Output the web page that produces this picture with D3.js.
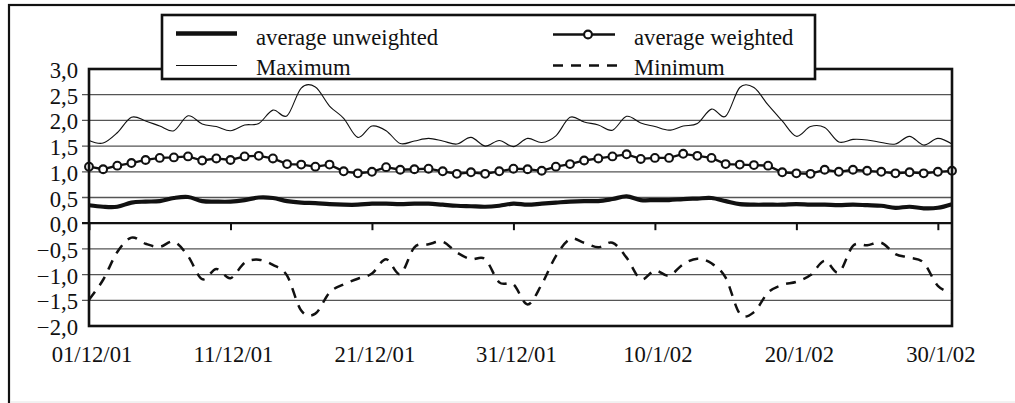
<!DOCTYPE html>
<html>
<head>
<meta charset="utf-8">
<script src="https://cdn.jsdelivr.net/npm/d3@7"></script>
<style>
  html, body { margin: 0; padding: 0; background: #fff; }
  svg { display: block; font-family: "Liberation Serif", "Times New Roman", serif; }
</style>
</head>
<body>
<svg id="chart" width="1015" height="403"></svg>
<script>
// Daily observations, 1 Dec 2001 .. 31 Jan 2002
const dayList = d3.utcDay.range(new Date(Date.UTC(2001, 11, 1)), new Date(Date.UTC(2002, 1, 1)));

const avgUnweighted = [
  0.35, 0.32, 0.32, 0.40, 0.42, 0.43, 0.49, 0.51, 0.43, 0.42,
  0.42, 0.45, 0.50, 0.49, 0.43, 0.40, 0.39, 0.37, 0.36, 0.36,
  0.38, 0.38, 0.37, 0.38, 0.38, 0.36, 0.34, 0.33, 0.32, 0.34,
  0.38, 0.36, 0.38, 0.40, 0.42, 0.43, 0.43, 0.47, 0.52, 0.45,
  0.45, 0.45, 0.47, 0.48, 0.49, 0.43, 0.37, 0.36, 0.36, 0.36,
  0.37, 0.36, 0.36, 0.35, 0.36, 0.35, 0.34, 0.30, 0.32, 0.29,
  0.30, 0.37
];

const avgWeighted = [
  1.10, 1.05, 1.12, 1.17, 1.23, 1.27, 1.28, 1.30, 1.22, 1.26,
  1.23, 1.30, 1.31, 1.26, 1.15, 1.14, 1.10, 1.14, 1.01, 0.97,
  1.00, 1.09, 1.04, 1.05, 1.06, 1.01, 0.96, 0.99, 0.96, 1.01,
  1.06, 1.05, 1.02, 1.10, 1.15, 1.22, 1.26, 1.30, 1.34, 1.25,
  1.27, 1.27, 1.35, 1.31, 1.27, 1.15, 1.14, 1.13, 1.12, 0.99,
  0.97, 0.96, 1.04, 1.00, 1.04, 1.02, 1.00, 0.97, 0.99, 0.97,
  1.00, 1.02
];

const maximum = [
  1.61, 1.56, 1.76, 2.06, 1.99, 1.89, 1.80, 2.09, 1.93, 1.88,
  1.80, 1.91, 1.94, 2.20, 2.09, 2.63, 2.65, 2.28, 2.04, 1.67,
  1.89, 1.80, 1.55, 1.60, 1.65, 1.60, 1.54, 1.67, 1.50, 1.61,
  1.49, 1.65, 1.57, 1.70, 2.06, 1.97, 1.91, 1.81, 2.08, 1.95,
  1.88, 1.81, 1.89, 1.94, 2.22, 2.08, 2.64, 2.64, 2.30, 1.99,
  1.69, 1.88, 1.86, 1.58, 1.63, 1.62, 1.57, 1.54, 1.69, 1.52,
  1.65, 1.54
];

const minimum = [
  -1.49, -1.10, -0.56, -0.28, -0.40, -0.46, -0.36, -0.64, -1.09, -0.89,
  -1.07, -0.77, -0.71, -0.81, -1.02, -1.70, -1.76, -1.35, -1.19, -1.08,
  -0.98, -0.70, -0.99, -0.47, -0.41, -0.36, -0.57, -0.70, -0.70, -1.15,
  -1.19, -1.58, -1.19, -0.64, -0.31, -0.38, -0.47, -0.38, -0.67, -1.09,
  -0.92, -1.02, -0.80, -0.69, -0.78, -1.06, -1.76, -1.73, -1.35, -1.20,
  -1.14, -1.01, -0.73, -0.96, -0.44, -0.43, -0.38, -0.60, -0.67, -0.77,
  -1.22, -1.35
];

const tickDates = [
  new Date(Date.UTC(2001, 11, 1)), new Date(Date.UTC(2001, 11, 11)),
  new Date(Date.UTC(2001, 11, 21)), new Date(Date.UTC(2001, 11, 31)),
  new Date(Date.UTC(2002, 0, 10)), new Date(Date.UTC(2002, 0, 20)),
  new Date(Date.UTC(2002, 0, 30))
];
const tickLabels = ["01/12/01", "11/12/01", "21/12/01", "31/12/01", "10/1/02", "20/1/02", "30/1/02"];
const yTicks = [-2, -1.5, -1, -0.5, 0, 0.5, 1, 1.5, 2, 2.5, 3];

const legendItems = ["average unweighted", "average weighted", "Maximum", "Minimum"];

// ---- layout ----
const svg = d3.select("#chart");
const plot = { left: 89, right: 952, top: 69, bottom: 326 };
const ink = "#111";
const fontPx = 22.7;

const x = d3.scaleUtc()
  .domain([dayList[0], dayList[dayList.length - 1]])
  .range([plot.left, plot.right]);
const y = d3.scaleLinear().domain([-2, 3]).range([plot.bottom, plot.top]);

svg.append("rect").attr("width", 1015).attr("height", 403).attr("fill", "#fff");

// outer frame (runs past the right and bottom edges)
svg.append("rect")
  .attr("x", 9).attr("y", 5).attr("width", 1040).attr("height", 430)
  .attr("fill", "none").attr("stroke", ink).attr("stroke-width", 2.2);
svg.append("line")
  .attr("x1", 10).attr("x2", 1015).attr("y1", 402).attr("y2", 402)
  .attr("stroke", "#e4e4e4").attr("stroke-width", 1);

// horizontal gridlines with short outer ticks
const inner = yTicks.filter(v => v > -2 && v < 3 && v !== 0);
svg.append("g").selectAll("line").data(inner).join("line")
  .attr("x1", plot.left - 7).attr("x2", plot.right)
  .attr("y1", d => y(d)).attr("y2", d => y(d))
  .attr("stroke", "#555").attr("stroke-width", 1.3);

// y axis labels
const fmt = d3.format(".1f");
const yAxis = d3.axisLeft(y)
  .tickValues(yTicks)
  .tickSize(0)
  .tickPadding(11)
  .tickFormat(d => fmt(d).replace(".", ","));
const yg = svg.append("g").attr("transform", `translate(${plot.left},0)`).call(yAxis);
yg.select(".domain").remove();
yg.selectAll("text")
  .attr("dy", null).attr("dominant-baseline", null)
  .attr("y", 8.5)
  .attr("font-size", fontPx).attr("font-family", "Liberation Serif, Times New Roman, serif")
  .attr("fill", ink);

// zero line carrying the date ticks
const xAxis = d3.axisBottom(x).tickValues(tickDates).tickSize(7).tickFormat("");
const xg = svg.append("g").attr("transform", `translate(0,${y(0)})`).call(xAxis);
xg.select(".domain").remove();
xg.selectAll(".tick line").attr("stroke", ink).attr("stroke-width", 2);
svg.append("line")
  .attr("x1", plot.left - 7).attr("x2", plot.right)
  .attr("y1", y(0)).attr("y2", y(0))
  .attr("stroke", ink).attr("stroke-width", 2.2);

// date labels under the plot
svg.append("g").selectAll("text").data(tickDates).join("text")
  .attr("x", d => x(d) + 3).attr("y", 362)
  .attr("text-anchor", "middle")
  .attr("font-size", fontPx).attr("fill", ink)
  .text((d, i) => tickLabels[i]);

// ---- series ----
const smooth = d3.curveCatmullRom.alpha(0);
const lineOf = (vals, curve) => d3.line()
  .x((d, i) => x(dayList[i]))
  .y(d => y(d))
  .curve(curve)(vals);

svg.append("path").attr("d", lineOf(maximum, smooth))
  .attr("fill", "none").attr("stroke", ink).attr("stroke-width", 1.1);

svg.append("path").attr("d", lineOf(minimum, smooth))
  .attr("fill", "none").attr("stroke", ink).attr("stroke-width", 2.5)
  .attr("stroke-dasharray", "10,8");

svg.append("path").attr("d", lineOf(avgUnweighted, smooth))
  .attr("fill", "none").attr("stroke", ink).attr("stroke-width", 4.2)
  .attr("stroke-linejoin", "round");

svg.append("path").attr("d", lineOf(avgWeighted, d3.curveLinear))
  .attr("fill", "none").attr("stroke", ink).attr("stroke-width", 2.3);
svg.append("g").selectAll("circle").data(avgWeighted).join("circle")
  .attr("cx", (d, i) => x(dayList[i])).attr("cy", d => y(d))
  .attr("r", 3.9).attr("fill", "#fff").attr("stroke", ink).attr("stroke-width", 2.1);

// plot border
svg.append("rect")
  .attr("x", plot.left).attr("y", plot.top)
  .attr("width", plot.right - plot.left).attr("height", plot.bottom - plot.top)
  .attr("fill", "none").attr("stroke", ink).attr("stroke-width", 2.6);

// ---- legend ----
const lg = svg.append("g");
lg.append("rect")
  .attr("x", 162).attr("y", 15).attr("width", 653).attr("height", 64)
  .attr("fill", "#fff").attr("stroke", ink).attr("stroke-width", 2.6);

// column 1
lg.append("line").attr("x1", 176).attr("x2", 237).attr("y1", 33.5).attr("y2", 33.5)
  .attr("stroke", ink).attr("stroke-width", 4.4);
lg.append("line").attr("x1", 176).attr("x2", 237).attr("y1", 65.5).attr("y2", 65.5)
  .attr("stroke", ink).attr("stroke-width", 1.1);
// column 2
lg.append("line").attr("x1", 553).attr("x2", 615).attr("y1", 34.5).attr("y2", 34.5)
  .attr("stroke", ink).attr("stroke-width", 2.3);
lg.append("circle").attr("cx", 588).attr("cy", 34.5).attr("r", 3.9)
  .attr("fill", "#fff").attr("stroke", ink).attr("stroke-width", 2.1);
lg.append("line").attr("x1", 553).attr("x2", 617).attr("y1", 65.5).attr("y2", 65.5)
  .attr("stroke", ink).attr("stroke-width", 2.5).attr("stroke-dasharray", "10,8");

const legendPos = [[256, 45], [634, 45], [256, 75], [634, 75]];
lg.selectAll("text").data(legendItems).join("text")
  .attr("x", (d, i) => legendPos[i][0]).attr("y", (d, i) => legendPos[i][1])
  .attr("font-size", fontPx).attr("fill", ink)
  .text(d => d);
</script>
</body>
</html>
